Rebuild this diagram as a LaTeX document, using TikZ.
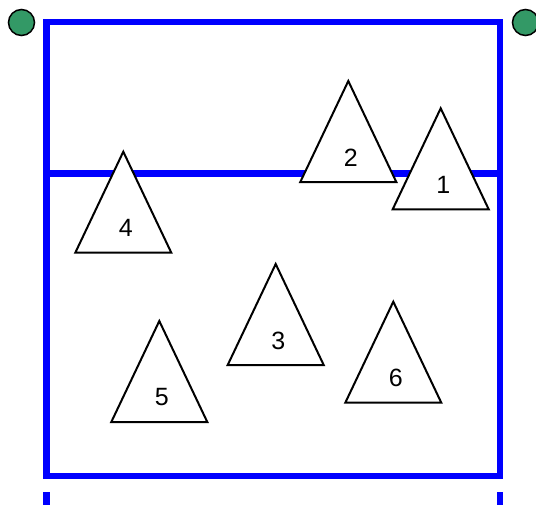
\documentclass[tikz,border=0pt]{standalone}
\usepackage{fontspec}
\setmainfont{Liberation Sans}
\usetikzlibrary{positioning}
\definecolor{ctInk}{HTML}{000000}
\definecolor{ctBlue}{HTML}{0000FF}
\definecolor{ctGreen}{HTML}{339966}
\tikzset{
  % Court lines (blue)
  wall/.style={draw=ctBlue,line width=6.5pt},
  % Player triangle
  tri/.style={draw=ctInk,fill=white,line width=2pt},
  % Player number
  lbl/.style={font=\fontsize{25}{28}\selectfont,text=ctInk,inner sep=0pt},
  % Corner post (green)
  post/.style={circle,draw=ctInk,line width=1.5pt,fill=ctGreen,
    minimum size=26pt,inner sep=0pt},
}

\begin{document}
\begin{tikzpicture}[x=1pt,y=-1pt]
  \useasboundingbox (0,0) rectangle (536,504);

  % Court
  \draw[wall] (46.5,22) rectangle (500,476);
  \draw[wall] (46.5,173.5) -- (500,173.5);

  % Next court, cut off below
  \draw[wall] (46.5,492) -- (46.5,512);
  \draw[wall] (500,492) -- (500,512);

  % Corner posts
  \node[post] (postL) at (21.5,22.5) {};
  \node[post] (postR) at (525.5,22.5) {};

  % Players
  \foreach \n/\x/\y in {1/440.7/108.3,2/348.3/81,3/275.7/264,
                        4/123.3/151.7,5/159.3/321,6/393.3/301.7}{
    \draw[tri] (\x,\y) -- ++(-48,101) -- ++(96,0) -- cycle;
    \node[lbl] (p\n) at (\x+2.5,\y+76.5) {\n};
  }
\end{tikzpicture}
\end{document}
